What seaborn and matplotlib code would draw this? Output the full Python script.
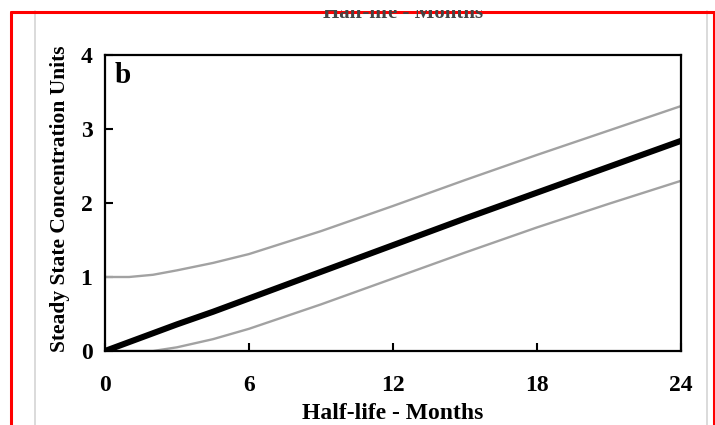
import matplotlib
matplotlib.use("Agg")
import matplotlib.pyplot as plt
from matplotlib.lines import Line2D
from matplotlib.transforms import Bbox, TransformedBbox
import numpy as np
import pandas as pd
import seaborn as sns

# ---- data ----
months = [0, 1, 2, 3, 4.5, 6, 9, 12, 15, 18, 21, 24]
mean_conc = [0.0, 0.12, 0.24, 0.36, 0.53, 0.71, 1.07, 1.43, 1.79, 2.14, 2.49, 2.84]
upper_conc = [1.0, 1.0, 1.03, 1.09, 1.19, 1.31, 1.62, 1.96, 2.31, 2.65, 2.98, 3.31]
lower_conc = [0.0, 0.0, 0.0, 0.05, 0.16, 0.30, 0.63, 0.98, 1.33, 1.67, 1.99, 2.30]
x_ticks = [0, 6, 12, 18, 24]
y_ticks = [0, 1, 2, 3, 4]

sns.set_style("ticks")
plt.rcParams["font.family"] = ["Liberation Serif", "DejaVu Serif"]
plt.rcParams["font.weight"] = "bold"
plt.rcParams["text.color"] = "black"
plt.rcParams["axes.labelcolor"] = "black"
plt.rcParams["xtick.color"] = "black"
plt.rcParams["ytick.color"] = "black"

W, H = 715, 425
fig = plt.figure(figsize=(W / 100, H / 100), dpi=100)
fig.patch.set_facecolor("white")

ax = fig.add_axes([105 / W, (H - 351) / H, 576 / W, 296 / H])

df = pd.DataFrame({
    "months": months * 3,
    "conc": mean_conc + upper_conc + lower_conc,
    "series": ["mean"] * len(months) + ["upper"] * len(months) + ["lower"] * len(months),
})

sns.lineplot(data=df[df.series == "upper"], x="months", y="conc", ax=ax,
             color="#a2a2a2", lw=1.7, legend=False)
sns.lineplot(data=df[df.series == "lower"], x="months", y="conc", ax=ax,
             color="#a2a2a2", lw=1.7, legend=False)
sns.lineplot(data=df[df.series == "mean"], x="months", y="conc", ax=ax,
             color="black", lw=4.4, legend=False, solid_capstyle="butt")

ax.set_xlim(0, 24)
ax.set_ylim(0, 4)
ax.set_xticks(x_ticks)
ax.set_yticks(y_ticks)
ax.set_xticklabels([str(t) for t in x_ticks], fontsize=17, fontweight="bold", color="black")
ax.set_yticklabels([str(t) for t in y_ticks], fontsize=17, fontweight="bold", color="black")
ax.tick_params(axis="both", direction="in", length=6, width=1.5, colors="black")
ax.tick_params(axis="x", pad=17)
ax.tick_params(axis="y", pad=9)
for s in ax.spines.values():
    s.set_visible(True)
    s.set_linewidth(1.6)
    s.set_color("black")

ax.set_xlabel("Half-life - Months", fontsize=17, fontweight="bold", labelpad=5, color="black")
ax.set_ylabel("Steady State Concentration Units", fontsize=15.5, fontweight="bold",
              labelpad=6, color="black")
ax.yaxis.set_label_coords(-0.060, 0.515)

ax.text(0.016, 0.975, "b", transform=ax.transAxes, fontsize=21, fontweight="bold",
        ha="left", va="top", color="black")

# partially visible label from the panel above
t = fig.text(403 / W, 1 - 18 / H, "Half-life - Months", fontsize=15, fontweight="bold",
             ha="center", va="baseline", color="#444444")
t.set_clip_box(TransformedBbox(Bbox([[0, 0], [1, 1 - 10 / H]]), fig.transFigure))
t.set_clip_on(True)

# scanned page edges and red frame
def fline(x0, y0, x1, y1, **kw):
    fig.add_artist(Line2D([x0 / W, x1 / W], [1 - y0 / H, 1 - y1 / H],
                          transform=fig.transFigure, **kw))

fline(35, 11, 35, H, color="#d4d4d4", lw=1.2)
fline(707, 11, 707, H, color="#d4d4d4", lw=1.2)
fline(11.5, 11.5, 11.5, H, color="red", lw=2.2)
fline(11.5, 11.5, W, 11.5, color="red", lw=2.2)
fline(713.5, 11.5, 713.5, H, color="red", lw=2.2)

fig.savefig("out.png", dpi=100, facecolor="white")
